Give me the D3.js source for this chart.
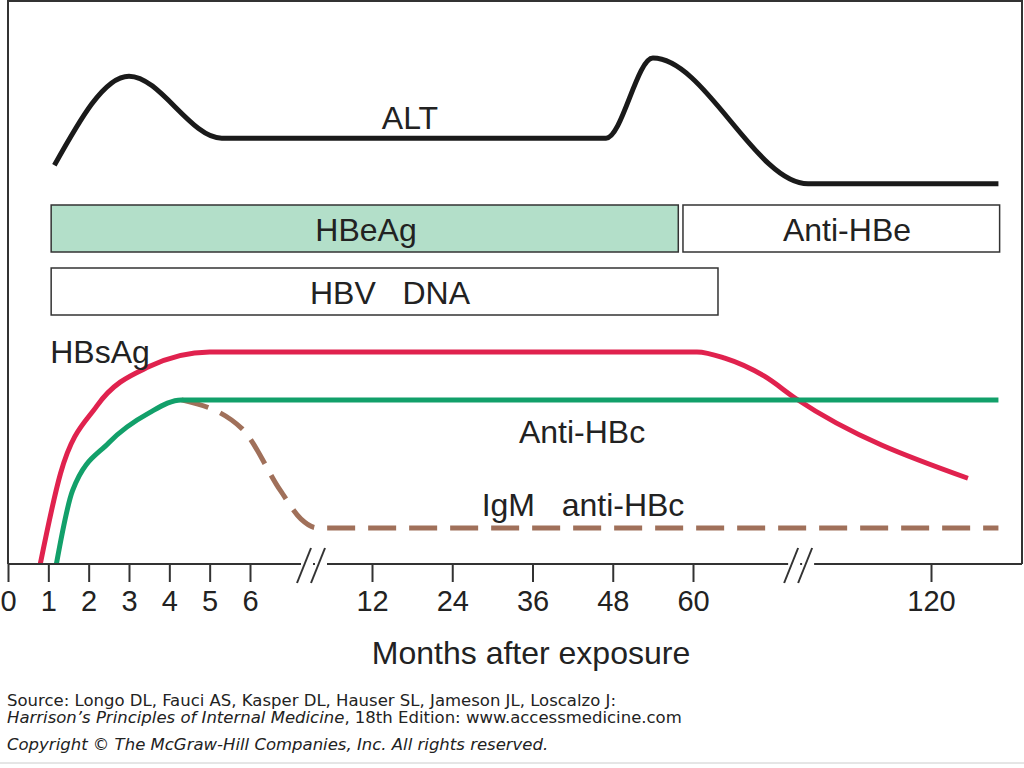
<!DOCTYPE html>
<html><head><meta charset="utf-8">
<script src="https://cdn.jsdelivr.net/npm/d3@7"></script>
<style>body{margin:0;background:#fff}svg{font-family:"Liberation Sans",Arial,sans-serif}</style>
</head><body><svg id="c" width="1024" height="768"></svg>
<script>
// months after exposure (x), relative level 0-100 (y)
const altCurve = [[1.15,70.7],[3,86.5],[5.3,75.5],[47,75.5],[54,89.7],[89,67.4],[137,67.4]];
const hbsAg = [[0.8,0],[1.3,16],[2.2,28],[3.5,35],[5,37.6],[61,37.6],[68,36.5],[78,33.3],[86,29.3],[129.3,15.2]];
const antiHBc = [[1.2,0],[1.6,13],[2.5,21.5],[3.5,26.8],[4.3,29.1],[137,29.1]];
const igmAntiHBc = [[4.3,29.1],[5.8,24],[7.5,13],[8.5,8],[9.3,6.4],[137,6.4]];
const bars = [
  {name:"HBeAg", x0:1.07, x1:57.8, row:0, fill:"#b3dfc9"},
  {name:"Anti-HBe", x0:58.5, x1:137.3, row:0, fill:"#fff"},
  {name:"HBV   DNA", x0:1.07, x1:66.3, row:1, fill:"#fff"}
];
const tickValues = [0,1,2,3,4,5,6,12,24,36,48,60,120];
const breaks = [9, 86.5];

const svg = d3.select("#c");
const x = d3.scaleLinear().domain([0,6,12,60,120]).range([8,250,372,693,931]);
const y = d3.scaleLinear().domain([0,100]).range([564,0]);
const line = d3.line().x(d => x(d[0])).y(d => y(d[1])).curve(d3.curveMonotoneX);

// frame
svg.append("path").attr("d","M8,564V1H1022V564").attr("fill","none").attr("stroke","#333").attr("stroke-width",2);

// bars
const rowY = [205, 268];
svg.selectAll("rect.bar").data(bars).enter().append("rect")
  .attr("x", d => x(d.x0)).attr("width", d => x(d.x1) - x(d.x0))
  .attr("y", d => rowY[d.row]).attr("height", 47)
  .attr("fill", d => d.fill).attr("stroke","#333").attr("stroke-width",1.5);

// curves
svg.append("path").datum(altCurve).attr("d", line).attr("fill","none").attr("stroke","#1a1a1a").attr("stroke-width",5);
svg.append("path").datum(hbsAg).attr("d", line).attr("fill","none").attr("stroke","#e0224e").attr("stroke-width",5);
svg.append("path").datum(igmAntiHBc).attr("d", line).attr("fill","none").attr("stroke","#a0705a").attr("stroke-width",5).attr("stroke-dasharray","28,13");
svg.append("path").datum(antiHBc).attr("d", line).attr("fill","none").attr("stroke","#12a06a").attr("stroke-width",5);

// axis
const axis = svg.append("g").attr("transform","translate(0,564)")
  .call(d3.axisBottom(x).tickValues(tickValues).tickSize(18).tickSizeOuter(0).tickPadding(8).tickFormat(d3.format("d")));
axis.select(".domain").remove();
axis.append("line").attr("x1",8).attr("x2",1022).attr("stroke","#333").attr("stroke-width",2);
axis.selectAll(".tick line").attr("stroke","#333").attr("stroke-width",2);
axis.selectAll(".tick text").attr("font-size",29).attr("fill","#222").attr("font-family","Liberation Sans, Arial, sans-serif");
axis.selectAll(".tick").filter(d => d === 0).select("line").attr("y1",0);

// axis breaks
breaks.forEach(b => {
  const bx = x(b);
  [-8, 6].forEach(o => {
    svg.append("rect").attr("x", bx+o-2).attr("y",560).attr("width",12).attr("height",8).attr("fill","#fff");
    svg.append("line").attr("x1",bx+o-6).attr("y1",583).attr("x2",bx+o+8).attr("y2",548).attr("stroke","#333").attr("stroke-width",2);
  });
});

// labels
const labels = [
  ["ALT",410,129],["HBeAg",366,241],["Anti-HBe",847,241],["HBV   DNA",390,304],
  ["HBsAg",100,363],["Anti-HBc",582,443],["IgM   anti-HBc",583,516]
];
svg.selectAll("text.lab").data(labels).enter().append("text")
  .attr("x", d => d[1]).attr("y", d => d[2]).attr("text-anchor","middle")
  .attr("font-size",32).attr("fill","#222").style("white-space","pre").text(d => d[0]);

svg.append("text").attr("x",531).attr("y",664).attr("text-anchor","middle").attr("font-size",32).attr("fill","#222").text("Months after exposure");

const src = svg.append("g").attr("font-family","DejaVu Sans, sans-serif").attr("font-size",16.5).attr("fill","#222");
src.append("text").attr("x",7).attr("y",706).text("Source: Longo DL, Fauci AS, Kasper DL, Hauser SL, Jameson JL, Loscalzo J:");
const t2 = src.append("text").attr("x",7).attr("y",723);
t2.append("tspan").attr("font-style","italic").text("Harrison’s Principles of Internal Medicine");
t2.append("tspan").text(", 18th Edition: www.accessmedicine.com");
src.append("text").attr("x",7).attr("y",750).attr("font-style","italic").text("Copyright © The McGraw-Hill Companies, Inc. All rights reserved.");
svg.append("line").attr("x1",0).attr("x2",1024).attr("y1",763).attr("y2",763).attr("stroke","#ccc");
</script></body></html>
